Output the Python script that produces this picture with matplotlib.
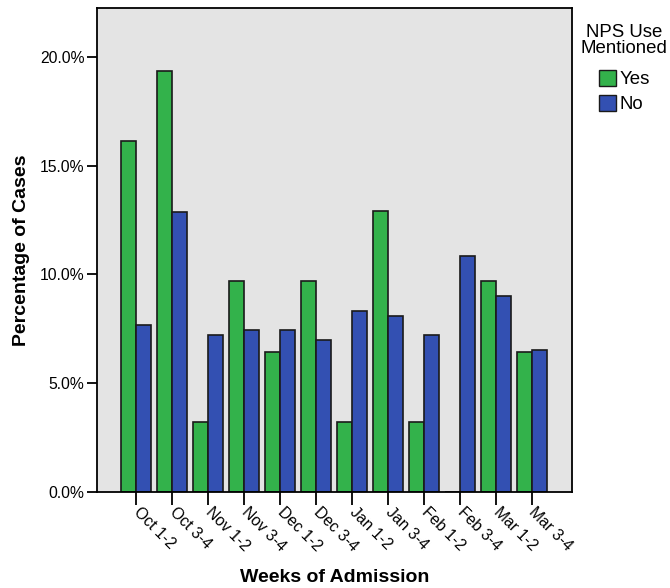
import matplotlib
matplotlib.use("Agg")
import matplotlib.pyplot as plt
import numpy as np
from matplotlib.patches import Patch

plt.rcParams['font.family'] = ['Liberation Sans', 'DejaVu Sans']

categories = ["Oct 1-2", "Oct 3-4", "Nov 1-2", "Nov 3-4", "Dec 1-2", "Dec 3-4",
              "Jan 1-2", "Jan 3-4", "Feb 1-2", "Feb 3-4", "Mar 1-2", "Mar 3-4"]
yes_vals = [16.13, 19.35, 3.23, 9.68, 6.45, 9.68, 3.23, 12.90, 3.23, 0.0, 9.68, 6.45]
no_vals = [7.66, 12.87, 7.20, 7.43, 7.43, 6.97, 8.34, 8.11, 7.20, 10.84, 9.01, 6.51]
series_names = ["Yes", "No"]
legend_title = "NPS Use\nMentioned"
y_ticks = [0, 5, 10, 15, 20]

green = "#33b24b"
blue = "#3350b2"

fig = plt.figure(figsize=(6.7, 5.88), dpi=100)
ax = fig.add_axes([97/670, 96/588, 475/670, 484/588])
ax.set_facecolor("#e4e4e4")

x = np.arange(len(categories))
w = 0.4167
ax.bar(x - w/2, yes_vals, width=w, color=green, edgecolor="#1a1a1a", linewidth=1.2)
ax.bar(x + w/2, no_vals, width=w, color=blue, edgecolor="#1a1a1a", linewidth=1.2)

ax.set_xlim(-1.075, 12.12)
ax.set_ylim(0, 22.25)
ax.set_yticks(y_ticks)
ax.set_yticklabels([f"{v:.1f}%" for v in y_ticks], fontsize=11.3)
ax.set_xticks(x)
ax.set_xticklabels(categories, fontsize=11.3, rotation=-45, ha='left', va='center',
                   rotation_mode='anchor')
ax.tick_params(axis='y', direction='out', length=7.5, width=1.3, color='black', pad=1.5)
ax.tick_params(axis='x', direction='out', length=9, width=1.3, color='black', pad=3.5)
for s in ax.spines.values():
    s.set_linewidth(1.3)
    s.set_color('black')

ax.set_ylabel("Percentage of Cases", fontsize=14, fontweight='bold', labelpad=7)
fig.text(0.5 * (97 + 572) / 670, 1 - 577/588, "Weeks of Admission", fontsize=14,
         fontweight='bold', ha='center', va='center')

handles = [Patch(facecolor=green, edgecolor="#1a1a1a", linewidth=1.0),
           Patch(facecolor=blue, edgecolor="#1a1a1a", linewidth=1.0)]
leg = fig.legend(handles, series_names, title=legend_title, loc='upper left',
                 bbox_to_anchor=(581/670, 1 - 24/588), frameon=False, fontsize=13.4,
                 title_fontsize=13.4, handlelength=0.95, handleheight=0.95,
                 handletextpad=0.2, labelspacing=0.36, borderaxespad=0, borderpad=0)
leg.get_title().set_multialignment('center')
leg.get_title().set_linespacing(0.95)
leg._legend_box.sep = 9

fig.savefig("out.png", dpi=100)
